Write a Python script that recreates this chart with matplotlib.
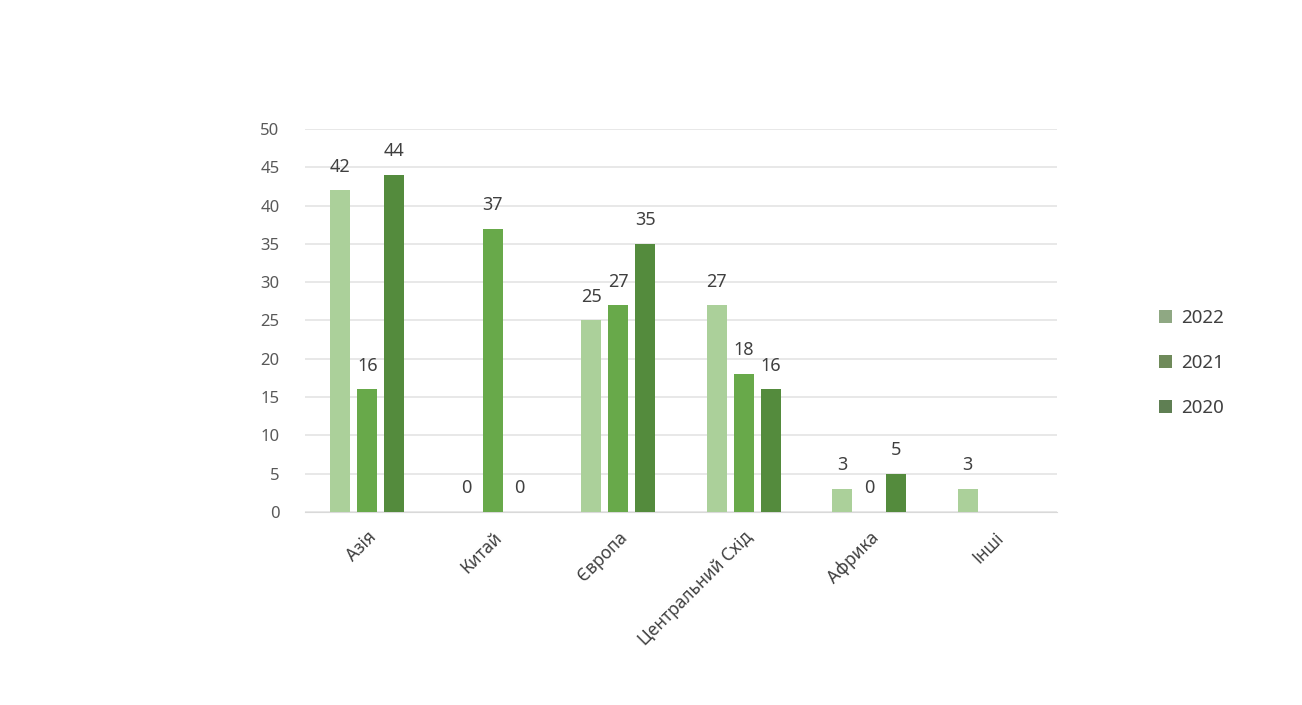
import numpy as np
import matplotlib
matplotlib.use("Agg")
from matplotlib import pyplot as plt
from matplotlib.patches import Patch

plt.rcParams['font.family'] = ['Noto Sans', 'DejaVu Sans']

# data
categories = ['Азія', 'Китай', 'Європа', 'Центральний Схід', 'Африка', 'Інші']
years = ['2022', '2021', '2020']
v2022 = [42, 0, 25, 27, 3, 3]
v2021 = [16, 37, 27, 18, 0, np.nan]
v2020 = [44, 0, 35, 16, 5, np.nan]

bar_colors = ['#abd09a', '#68a94a', '#548b3d']
legend_colors = ['#8fa883', '#6f8a5a', '#5f7f53']

fig = plt.figure(figsize=(13.02, 7.05), dpi=100)
ax = fig.add_axes([0.234, 0.274, 0.578, 0.543])

x = np.arange(len(categories))
w = 0.16
step = 0.215
series = [v2022, v2021, v2020]
for i, vals in enumerate(series):
    pos = x + (i - 1) * step
    vals = np.array(vals, dtype=float)
    ok = ~np.isnan(vals)
    ax.bar(pos[ok], vals[ok], width=w, color=bar_colors[i], zorder=3)
    for px, v in zip(pos[ok], vals[ok]):
        ax.text(px, v + 1.9, '%d' % v, ha='center', va='bottom',
                fontsize=13, color='#404040', zorder=4)

ax.set_xlim(-0.5, len(categories) - 0.5)
ax.set_ylim(0, 50)
ax.set_yticks(range(0, 51, 5))
ax.yaxis.grid(True, color='#e4e4e4', linewidth=1.2, zorder=0)
ax.set_axisbelow(True)
for s in ax.spines.values():
    s.set_visible(False)
ax.spines['bottom'].set_visible(True)
ax.spines['bottom'].set_color('#d9d9d9')
ax.tick_params(axis='both', length=0, colors='#595959', labelsize=12)
ax.tick_params(axis='y', pad=18)
ax.set_xticks(x)
ax.set_xticklabels(categories, rotation=45, ha='right', rotation_mode='anchor',
                   fontsize=12.5, color='#404040')
ax.tick_params(axis='x', pad=12)

handles = [Patch(facecolor=c) for c in legend_colors]
leg = fig.legend(handles, years, loc='center left', bbox_to_anchor=(0.877, 0.485),
                 frameon=False, fontsize=13.5, handlelength=0.7, handleheight=0.7,
                 labelspacing=1.45, handletextpad=0.5)
for t in leg.get_texts():
    t.set_color('#404040')

fig.savefig('out.png', dpi=100)
